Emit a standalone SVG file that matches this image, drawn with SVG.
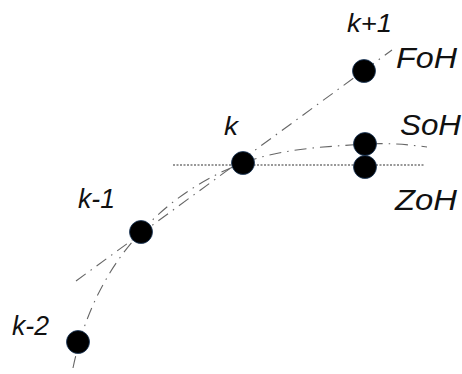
<svg xmlns="http://www.w3.org/2000/svg" width="462" height="374" viewBox="0 0 462 374">
<style>
.bg{fill:#fff}
.dd{fill:none;stroke:#666;stroke-width:1.1;stroke-dasharray:12 6 1.5 6}
.dot{fill:none;stroke:#333;stroke-width:1.1;stroke-dasharray:2 1.5}
.pt{fill:#000;stroke:#1c3a5e;stroke-width:0.8}
.lbl{font-family:"Liberation Sans",Arial,sans-serif;font-style:italic;fill:#111}
</style>
<rect class="bg" x="0" y="0" width="462" height="374"/>
<g id="connectors">
<path class="dd" d="M76,281 L392,50"/>
<path class="dd" d="M73,368 C85,310 110,265 141,232 C165,205 200,179 243,163 C283,148 325,147 365,144 C385,143 405,144 427,147"/>
<path class="dot" d="M173,165 L424,165"/>
</g>
<g id="node-k2"><circle class="pt" cx="78" cy="342" r="11.5"/><text class="lbl" x="12" y="335" font-size="28" textLength="37" lengthAdjust="spacingAndGlyphs">k-2</text></g>
<g id="node-k1"><circle class="pt" cx="141" cy="232" r="11.5"/><text class="lbl" x="78" y="208" font-size="28" textLength="37" lengthAdjust="spacingAndGlyphs">k-1</text></g>
<g id="node-k"><circle class="pt" cx="243" cy="163" r="11.5"/><text class="lbl" x="224" y="135" font-size="25" textLength="14" lengthAdjust="spacingAndGlyphs">k</text></g>
<g id="node-kp1"><circle class="pt" cx="364" cy="71" r="11.5"/><text class="lbl" x="347" y="32" font-size="25" textLength="45" lengthAdjust="spacingAndGlyphs">k+1</text><text class="lbl" x="396" y="68" font-size="30" textLength="61" lengthAdjust="spacingAndGlyphs">FoH</text></g>
<g id="node-soh"><circle class="pt" cx="365" cy="144" r="11.5"/><text class="lbl" x="400" y="135" font-size="30" textLength="61" lengthAdjust="spacingAndGlyphs">SoH</text></g>
<g id="node-zoh"><circle class="pt" cx="365" cy="167" r="11.5"/><text class="lbl" x="395" y="210" font-size="30" textLength="62" lengthAdjust="spacingAndGlyphs">ZoH</text></g>
</svg>
